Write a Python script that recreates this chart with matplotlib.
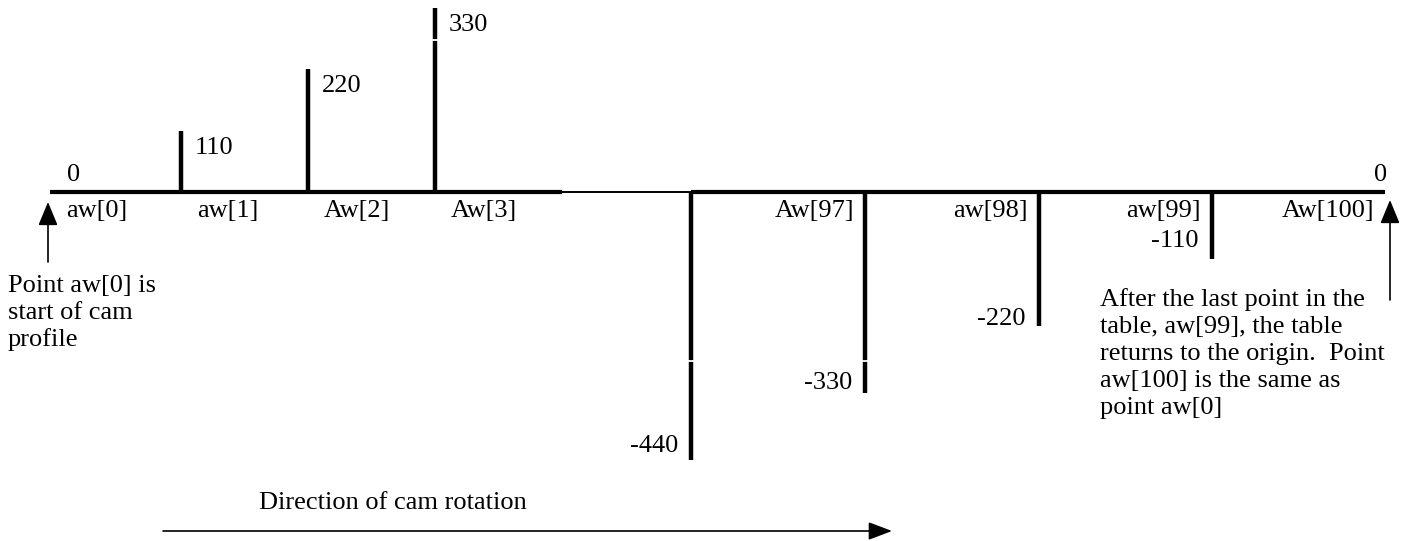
import matplotlib
matplotlib.use("Agg")
import matplotlib.pyplot as plt

# cam table values (start of profile and end of profile)
start_labels = ["aw[0]", "aw[1]", "Aw[2]", "Aw[3]"]
start_values = [0, 110, 220, 330]
end_labels = ["", "Aw[97]", "aw[98]", "aw[99]", "Aw[100]"]
end_values = [-440, -330, -220, -110, 0]

left_note = ["Point aw[0] is", "start of cam", "profile"]
right_note = ["After the last point in the", "table, aw[99], the table",
              "returns to the origin.  Point", "aw[100] is the same as",
              "point aw[0]"]
direction_text = "Direction of cam rotation"

# layout (pixels)
W, H = 1409, 541
start_x = [50, 181, 308, 435]
end_x = [691, 865, 1039, 1212, 1385]
base_y = 192
k_up, k_dn = 0.5576, 0.61    # px per unit, the sketch isn't to one scale
dn_label_dy = [8, 4, 1, 12, 0]

plt.rcParams["font.family"] = ["Liberation Serif", "DejaVu Serif"]
FS = 19

fig = plt.figure(figsize=(W / 100, H / 100), dpi=100)
ax_up = fig.add_axes([0, 0, 1, 1])
ax_up.set_xlim(0, W)
ax_up.set_ylim((base_y - H) / k_up, base_y / k_up)
ax_up.axis("off")
ax_dn = fig.add_axes([0, 0, 1, 1], sharex=ax_up)
ax_dn.set_ylim((base_y - H) / k_dn, base_y / k_dn)
ax_dn.axis("off")
# pixel axes for notes and arrows, on top
ax = fig.add_axes([0, 0, 1, 1], sharex=ax_up)
ax.set_ylim(H, 0)
ax.axis("off")

# baseline
ax_up.hlines(0, start_x[0], 562, color="black", lw=3)
ax_up.hlines(0, 562, end_x[0], color="black", lw=1.4)
ax_dn.hlines(0, end_x[0], end_x[-1], color="black", lw=3)

# stems
ax_up.vlines(start_x[1:], 0, start_values[1:], color="black", lw=3.2)
ax_dn.vlines(end_x[:-1], 0, end_values[:-1], color="black", lw=3.2)

# little breaks in the long stems
ax.hlines(40, 425, 445, color="white", lw=1.3)
ax.hlines(361, 680, 875, color="white", lw=1.3)

# start side labels
for x, v, lab in zip(start_x, start_values, start_labels):
    ax_up.annotate(lab, (x, 0), xytext=(16, -25), textcoords="offset pixels",
                   ha="left", va="baseline", fontsize=FS)
    if v == 0:
        ax_up.annotate(str(v), (x, 0), xytext=(17, 6), textcoords="offset pixels",
                       ha="left", va="bottom", fontsize=FS)
    else:
        ax_up.annotate(str(v), (x, v), xytext=(14, -17), textcoords="offset pixels",
                       ha="left", va="center", fontsize=FS)

# end side labels
for x, v, lab, dy in zip(end_x, end_values, end_labels, dn_label_dy):
    if lab:
        ax_dn.annotate(lab, (x, 0), xytext=(-11, -25), textcoords="offset pixels",
                       ha="right", va="baseline", fontsize=FS)
    if v == 0:
        ax_dn.annotate(str(v), (x, 0), xytext=(-4, 6), textcoords="offset pixels",
                       ha="center", va="bottom", fontsize=FS)
    else:
        ax_dn.annotate(str(v), (x, v), xytext=(-13, dy), textcoords="offset pixels",
                       ha="right", va="baseline", fontsize=FS)

# arrows
arrow = dict(arrowstyle="-|>,head_length=1.45,head_width=0.6", mutation_scale=10,
             color="black", lw=1.2, shrinkA=0, shrinkB=0)
ax.annotate("", xy=(48, 202), xytext=(48, 262), arrowprops=arrow)
ax.annotate("", xy=(1390, 200), xytext=(1390, 300), arrowprops=arrow)
ax.annotate("", xy=(892, 531), xytext=(163, 531),
            arrowprops=dict(arrow, arrowstyle="-|>,head_length=1.45,head_width=0.55"))

# notes
for i, line in enumerate(left_note):
    ax.text(8, 292 + 27 * i, line, ha="left", va="baseline", fontsize=FS)
for i, line in enumerate(right_note):
    ax.text(1100, 306 + 27 * i, line, ha="left", va="baseline", fontsize=FS)
ax.text(259, 509, direction_text, ha="left", va="baseline", fontsize=FS)

fig.savefig("out.png", dpi=100, facecolor="white")
